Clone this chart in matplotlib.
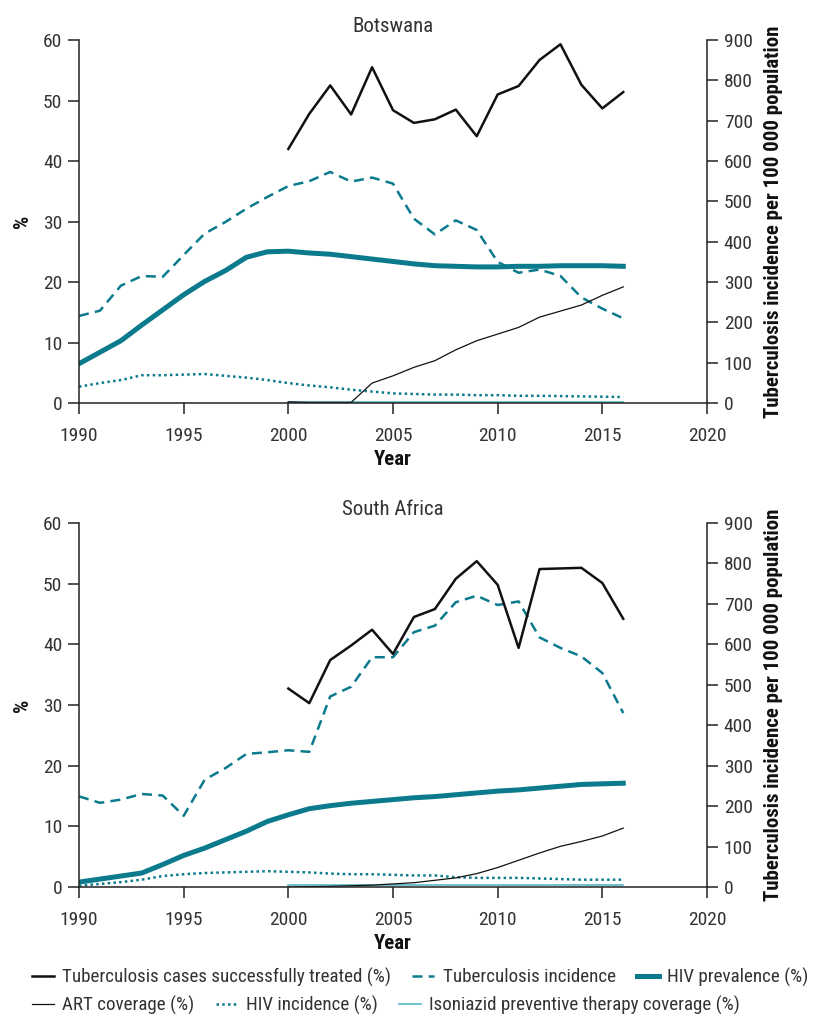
import numpy as np
import matplotlib.pyplot as plt
from matplotlib import font_manager

# pick a narrow font if one is installed
installed = {f.name for f in font_manager.fontManager.ttflist}
narrow = [n for n in ['Roboto Condensed', 'Open Sans Condensed', 'DejaVu Sans Condensed',
                      'Liberation Sans Narrow', 'Noto Sans Condensed'] if n in installed]
FONT = narrow[0] if narrow else 'Liberation Sans'
SCALE = 1.0 if narrow else 0.86
plt.rcParams['font.family'] = [FONT, 'DejaVu Sans']

TEAL = '#0a7a8c'
LIGHT = '#55b6c6'
INK = '#333333'

years_all = np.arange(1990, 2017)
years_00 = np.arange(2000, 2017)

# Botswana
bw_tb_treated = [42.0, 47.8, 52.5, 47.7, 55.5, 48.4, 46.3, 46.9, 48.5, 44.1, 51.0,
                 52.4, 56.7, 59.3, 52.6, 48.7, 51.4]
bw_tb_incidence = [216, 229, 291, 315, 313, 367, 420, 449, 482, 511, 538, 550, 573,
                   549, 559, 544, 457, 418, 453, 429, 350, 323, 331, 315, 262, 234, 210]
bw_hiv_prev = [6.5, 8.4, 10.3, 12.9, 15.4, 17.9, 20.1, 21.9, 24.1, 25.0, 25.1, 24.8,
               24.6, 24.2, 23.8, 23.4, 23.0, 22.7, 22.6, 22.5, 22.5, 22.6, 22.6, 22.7,
               22.7, 22.7, 22.6]
bw_art = [0.2, 0.1, 0.1, 0.1, 3.3, 4.5, 5.9, 7.0, 8.8, 10.3, 11.4, 12.5, 14.2, 15.2,
          16.2, 17.8, 19.2]
bw_hiv_inc = [2.7, 3.3, 3.8, 4.6, 4.6, 4.7, 4.8, 4.5, 4.2, 3.8, 3.3, 2.9, 2.6, 2.2,
              1.9, 1.6, 1.5, 1.4, 1.4, 1.3, 1.3, 1.2, 1.2, 1.15, 1.1, 1.05, 1.0]
bw_ipt = [0.1, 0.1, 0.1, 0.1, 0.1, 0.1, 0.1, 0.1, 0.1, 0.1, 0.1, 0.1, 0.1, 0.1, 0.1,
          0.1, 0.1]

# South Africa
za_tb_treated = [32.7, 30.3, 37.4, 39.8, 42.4, 38.4, 44.5, 45.8, 50.8, 53.7, 49.8,
                 39.4, 52.4, 52.5, 52.6, 50.1, 44.2]
za_tb_incidence = [224, 208, 216, 230, 226, 176, 265, 294, 329, 333, 338, 334, 471,
                   495, 568, 568, 630, 646, 704, 720, 697, 706, 617, 591, 570, 529, 430]
za_hiv_prev = [0.8, 1.3, 1.8, 2.3, 3.7, 5.2, 6.4, 7.8, 9.2, 10.8, 11.9, 12.9, 13.4,
               13.8, 14.1, 14.4, 14.7, 14.9, 15.2, 15.5, 15.8, 16.0, 16.3, 16.6, 16.9,
               17.0, 17.1]
za_art = [0.0, 0.05, 0.1, 0.2, 0.3, 0.5, 0.7, 1.1, 1.5, 2.2, 3.2, 4.4, 5.6, 6.7, 7.5,
          8.4, 9.7]
za_hiv_inc = [0.2, 0.5, 0.8, 1.2, 1.8, 2.1, 2.3, 2.4, 2.5, 2.6, 2.5, 2.4, 2.2, 2.1,
              2.1, 2.0, 1.9, 1.9, 1.6, 1.5, 1.5, 1.5, 1.4, 1.3, 1.2, 1.2, 1.2]
za_ipt = [0.3, 0.3, 0.3, 0.3, 0.3, 0.3, 0.3, 0.3, 0.3, 0.3, 0.3, 0.3, 0.3, 0.3, 0.3,
          0.3, 0.3]

countries = [
    ('Botswana', bw_tb_treated, bw_tb_incidence, bw_hiv_prev, bw_art, bw_hiv_inc, bw_ipt),
    ('South Africa', za_tb_treated, za_tb_incidence, za_hiv_prev, za_art, za_hiv_inc, za_ipt),
]

fig = plt.figure(figsize=(8.13, 10.16), dpi=100)
positions = [[0.0972, 0.6033, 0.7724, 0.3573], [0.0972, 0.127, 0.7724, 0.3583]]

for pos, (name, tbt, tbi, hp, art, hi, ipt) in zip(positions, countries):
    ax = fig.add_axes(pos)
    ax2 = ax.twinx()
    ax.set_zorder(ax2.get_zorder() + 1)
    ax.patch.set_visible(False)

    h_tbi, = ax2.plot(years_all, tbi, color=TEAL, lw=1.8, ls=(0, (4, 2.5)),
                      label='Tuberculosis incidence')
    h_hp, = ax.plot(years_all, hp, color=TEAL, lw=3.6, label='HIV prevalence (%)')
    h_hi, = ax.plot(years_all, hi, color=TEAL, lw=1.8, ls=(0, (1, 1.3)),
                    label='HIV incidence (%)')
    h_ipt, = ax.plot(years_00, ipt, color=LIGHT, lw=1.2,
                     label='Isoniazid preventive therapy coverage (%)')
    h_art, = ax.plot(years_00, art, color='#111111', lw=0.9, label='ART coverage (%)')
    h_tbt, = ax.plot(years_00, tbt, color='#111111', lw=1.8,
                     label='Tuberculosis cases successfully treated (%)')

    ax.set_xlim(1990, 2020)
    ax.set_ylim(0, 60)
    ax2.set_ylim(0, 900)
    ax.set_xticks(range(1990, 2021, 5))
    ax.set_yticks(range(0, 61, 10))
    ax2.set_yticks(range(0, 901, 100))

    for a in (ax, ax2):
        a.spines['top'].set_visible(False)
        for s in a.spines.values():
            s.set_linewidth(1.1)
            s.set_color('#222222')
        a.tick_params(labelsize=14 * SCALE ** 0.5, length=8, width=1.1,
                      color='#222222', labelcolor=INK, pad=4)
    ax.tick_params(axis='x', pad=9)
    ax.spines['right'].set_visible(False)
    ax2.spines['left'].set_visible(False)
    ax2.spines['bottom'].set_visible(False)

    ax.set_title(name, fontsize=15 * SCALE ** 0.5, pad=6, color=INK)
    ax.set_xlabel('Year', fontsize=15, fontweight='bold', labelpad=4, color='#111111')
    ax.set_ylabel('%', fontsize=15, fontweight='bold', labelpad=8, color='#111111')
    ax2.set_ylabel('Tuberculosis incidence per 100 000 population',
                   fontsize=15 * SCALE, fontweight='bold', labelpad=8, color='#111111')

rows = [[h_tbt, h_tbi, h_hp], [h_art, h_hi, h_ipt]]
for row, y in zip(rows, [1 - 977 / 1016, 1 - 1005 / 1016]):
    leg = fig.legend(handles=row, labels=[h.get_label() for h in row], ncol=3,
                     loc='center left', bbox_to_anchor=(32 / 813, y), frameon=False,
                     fontsize=13.7 * SCALE, handlelength=1.15, handletextpad=0.45,
                     columnspacing=1.1, borderpad=0, borderaxespad=0)
    for t in leg.get_texts():
        t.set_color(INK)

fig.savefig('out.png', dpi=100)
